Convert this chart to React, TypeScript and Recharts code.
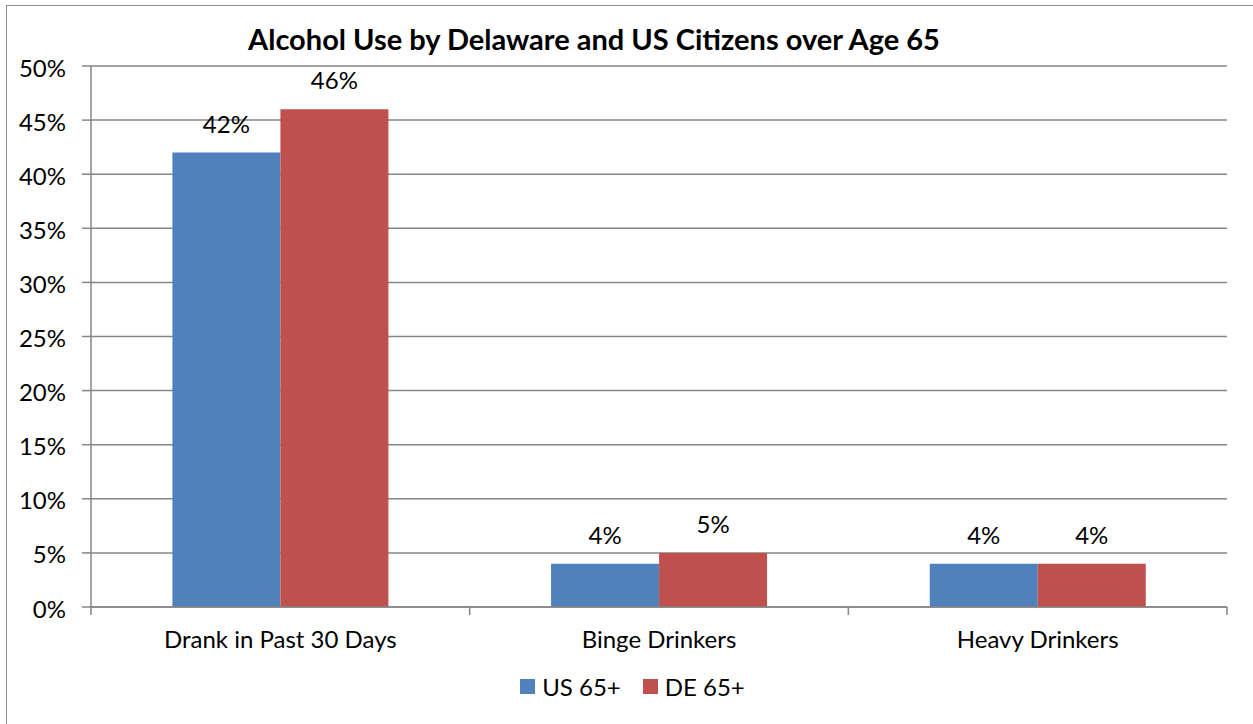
import { BarChart, Bar, XAxis, YAxis, CartesianGrid, Legend, LabelList } from "recharts";

const categories = ["Drank in Past 30 Days", "Binge Drinkers", "Heavy Drinkers"];
const usValues = [42, 4, 4];
const deValues = [46, 5, 4];
const yTicks = [0, 5, 10, 15, 20, 25, 30, 35, 40, 45, 50];
const seriesOrder = ["us", "de"];

const data = categories.map((name, i) => ({ name, us: usValues[i], de: deValues[i] }));

const font = "Lato, 'Open Sans', sans-serif";
const gray = "#868686";
const blue = "#4F81BD";
const red = "#C0504D";
const fs = 24;
const axisY = 607;

// category label plus the Excel-style tick marks on the band edges
function CatTick({ x, y, payload }: any) {
  const half = payload.offset || 0;
  const last = payload.index === categories.length - 1;
  return (
    <g>
      <line x1={x - half} x2={x - half} y1={axisY} y2={axisY + 8} stroke={gray} strokeWidth={1.5} />
      {last && <line x1={x + half} x2={x + half} y1={axisY} y2={axisY + 8} stroke={gray} strokeWidth={1.5} />}
      <text x={x} y={y} dy="0.71em" textAnchor="middle" fill="#000" fontSize={fs} fontFamily={font}>
        {payload.value}
      </text>
    </g>
  );
}

function LegendBox({ payload }: any) {
  const items = [...(payload || [])].sort(
    (a: any, b: any) => seriesOrder.indexOf(a.dataKey) - seriesOrder.indexOf(b.dataKey)
  );
  return (
    <div style={{ display: "flex", justifyContent: "center", alignItems: "center", fontFamily: font, fontSize: fs, color: "#000", marginLeft: 12 }}>
      {items.map((p: any, i: number) => (
        <div key={i} style={{ display: "flex", alignItems: "center", marginLeft: i ? 22 : 0 }}>
          <span style={{ width: 15, height: 15, background: p.color, display: "inline-block", marginRight: 7 }} />
          <span>{p.value}</span>
        </div>
      ))}
    </div>
  );
}

export default function App() {
  return (
    <div style={{ position: "absolute", left: 0, top: 0, width: 1253, height: 724, overflow: "hidden", background: "#fff" }}>
      <div style={{ position: "absolute", left: 6, top: 5, width: 1300, height: 800, border: "1.5px solid #8c8c8c", boxSizing: "border-box" }} />
      <div style={{ position: "absolute", left: 0, top: 21, width: 1188, textAlign: "center", fontFamily: font, fontWeight: 700, fontSize: 29, color: "#000", lineHeight: "35px" }}>
        Alcohol Use by Delaware and US Citizens over Age 65
      </div>
      <BarChart
        width={1253}
        height={724}
        data={data}
        margin={{ top: 66, right: 26, bottom: 57, left: 0 }}
        barCategoryGap="21.5%"
        barGap={0}
        style={{ position: "absolute", left: 0, top: 0 }}
      >
        <CartesianGrid vertical={false} stroke={gray} strokeWidth={1.5} />
        <XAxis
          dataKey="name"
          tickLine={false}
          tickSize={8}
          tickMargin={16}
          axisLine={{ stroke: gray, strokeWidth: 1.5 }}
          tick={<CatTick />}
          height={60}
        />
        <YAxis
          domain={[0, 50]}
          ticks={yTicks}
          width={91}
          tickSize={9}
          tickMargin={16}
          tickFormatter={(v) => `${v}%`}
          tick={{ fill: "#000", fontSize: fs, fontFamily: font, dy: 2 }}
          tickLine={{ stroke: gray, strokeWidth: 1.5 }}
          axisLine={{ stroke: gray, strokeWidth: 1.5 }}
        />
        <Legend
          layout="horizontal"
          verticalAlign="middle"
          align="center"
          wrapperStyle={{ top: 672, left: 0, width: 1253 }}
          content={<LegendBox />}
        />
        <Bar dataKey="us" name="US 65+" fill={blue} isAnimationActive={false}>
          <LabelList dataKey="us" position="top" offset={20} formatter={(v: any) => `${v}%`} style={{ fill: "#000", fontSize: fs, fontFamily: font }} />
        </Bar>
        <Bar dataKey="de" name="DE 65+" fill={red} isAnimationActive={false}>
          <LabelList dataKey="de" position="top" offset={20} formatter={(v: any) => `${v}%`} style={{ fill: "#000", fontSize: fs, fontFamily: font }} />
        </Bar>
      </BarChart>
    </div>
  );
}
